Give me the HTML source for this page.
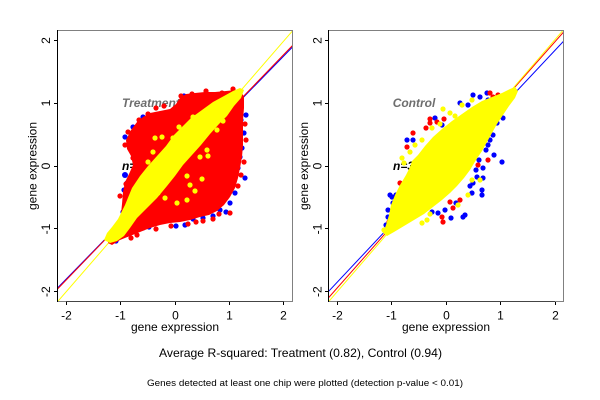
<!DOCTYPE html>
<html><head><meta charset="utf-8"><style>
html,body{margin:0;padding:0;background:#fff;}
svg{display:block;font-family:"Liberation Sans",Arial,sans-serif;}
</style></head><body>
<svg width="600" height="400" viewBox="0 0 600 400" xmlns="http://www.w3.org/2000/svg">
<defs>
<clipPath id="cl"><rect x="57.5" y="30.5" width="235" height="271"/></clipPath>
<clipPath id="cr"><rect x="328.5" y="30.5" width="235" height="271"/></clipPath>
</defs>
<rect width="600" height="400" fill="#fff"/>

<!-- ===== LEFT PANEL ===== -->
<text x="122" y="107" font-size="12" font-weight="bold" font-style="italic" fill="#6e6e6e">Treatment</text>
<text x="122" y="170" font-size="12" font-weight="bold" font-style="italic" fill="#000">n=3</text>
<g clip-path="url(#cl)">
<line x1="57" y1="288.5" x2="293" y2="46.5" stroke="#0000ff" stroke-width="1"/>
<line x1="57" y1="289.5" x2="293" y2="45" stroke="#ff0000" stroke-width="1"/>
<line x1="57.3" y1="302" x2="293.3" y2="30" stroke="#ffff00" stroke-width="1"/>
<g fill="#0000ff">
<circle cx="125" cy="137" r="2.6"/><circle cx="133" cy="127" r="2.6"/><circle cx="143" cy="117" r="2.6"/>
<circle cx="125" cy="175" r="3"/><circle cx="127" cy="183" r="2.6"/><circle cx="128" cy="203" r="2.6"/>
<circle cx="123" cy="212" r="2.6"/><circle cx="116" cy="241" r="2.6"/><circle cx="119" cy="228" r="2.6"/>
<circle cx="143" cy="228" r="2.6"/><circle cx="162" cy="220" r="2.6"/><circle cx="166" cy="218" r="2.6"/>
<circle cx="185" cy="225" r="2.6"/><circle cx="193" cy="219" r="2.6"/><circle cx="203" cy="218" r="2.6"/>
<circle cx="213" cy="216" r="2.6"/><circle cx="220" cy="210" r="2.6"/><circle cx="230" cy="203" r="2.6"/>
<circle cx="235" cy="193" r="2.6"/><circle cx="238" cy="168" r="2.6"/><circle cx="240" cy="157" r="2.6"/>
<circle cx="242" cy="148" r="2.6"/><circle cx="244" cy="133" r="2.6"/><circle cx="241" cy="120" r="2.6"/>
<circle cx="226" cy="212" r="2.6"/><circle cx="245" cy="178" r="2.6"/><circle cx="246" cy="115" r="2.6"/>
<circle cx="176" cy="226" r="2.6"/><circle cx="121" cy="220" r="2.6"/><circle cx="149" cy="227" r="2.6"/>
<circle cx="184" cy="96" r="2.6"/><circle cx="124" cy="190" r="2.6"/>
</g>
<path fill="#ff0000" d="M108,243 L113,232 L118,224 L121,214 L122,204 L123,192 L125,182 L129,174 L133,165 L131,156 L127,149 L126,140 L131,130 L137,122 L143,117 L150,113 L160,111 L170,109 L176,104 L180,98 L186,94 L195,93 L205,92 L215,92 L226,91 L236,90 L241,91 L244,97 L244,108 L243,120 L243,132 L243,145 L242,157 L240,168 L238,178 L235,188 L230,197 L224,205 L217,211 L209,215 L200,217 L190,220 L180,222 L170,223 L160,225 L150,228 L140,232 L130,236 L120,240 L112,245 Z"/>
<g fill="#ff0000">
<circle cx="125" cy="145" r="2.6"/><circle cx="230" cy="213" r="2.6"/><circle cx="203" cy="221" r="2.6"/>
<circle cx="188" cy="224" r="2.6"/><circle cx="120" cy="196" r="2.6"/><circle cx="156" cy="108" r="2.6"/>
<circle cx="164" cy="106" r="2.6"/><circle cx="181" cy="96" r="2.6"/><circle cx="245" cy="124" r="2.6"/>
<circle cx="241" cy="175" r="2.6"/><circle cx="137" cy="235" r="2.6"/><circle cx="213" cy="219" r="2.6"/>
<circle cx="124" cy="230" r="2.6"/><circle cx="133" cy="158" r="2.6"/><circle cx="222" cy="93" r="2.6"/>
<circle cx="128" cy="132" r="2.6"/><circle cx="139" cy="120" r="2.6"/><circle cx="148" cy="114" r="2.6"/>
<circle cx="192" cy="94" r="2.6"/><circle cx="206" cy="91" r="2.6"/><circle cx="233" cy="89" r="2.6"/>
<circle cx="246" cy="140" r="2.6"/><circle cx="244" cy="162" r="2.6"/><circle cx="238" cy="186" r="2.6"/>
<circle cx="219" cy="214" r="2.6"/><circle cx="196" cy="222" r="2.6"/><circle cx="171" cy="226" r="2.6"/>
<circle cx="156" cy="229" r="2.6"/><circle cx="131" cy="238" r="2.6"/><circle cx="123" cy="222" r="2.6"/>
<circle cx="125" cy="200" r="2.6"/><circle cx="126" cy="184" r="2.6"/>
</g>
<path fill="#ffff00" d="M104,240 L107,233 L112,227 L118,219 L125,205 L132,188 L140,176 L148,166 L157,156 L166,146 L174,135 L183,126 L191,118 L202,110 L213,102 L224,96 L233,91 L240,88 L244,90 L241,98 L234,106 L227,116 L219,124 L210,134 L201,145 L192,155 L183,165 L175,176 L167,186 L157,198 L147,208 L137,218 L130,228 L124,236 L117,241 L110,243 Z"/>
<g fill="#ffff00">
<circle cx="179" cy="127" r="2.6"/><circle cx="162" cy="137" r="2.6"/><circle cx="197" cy="117" r="2.6"/>
<circle cx="208" cy="125" r="2.6"/><circle cx="223" cy="121" r="2.6"/><circle cx="207" cy="150" r="2.6"/>
<circle cx="208" cy="156" r="2.6"/><circle cx="200" cy="157" r="2.6"/><circle cx="187" cy="176" r="2.6"/>
<circle cx="190" cy="185" r="2.6"/><circle cx="195" cy="191" r="2.6"/><circle cx="177" cy="203" r="2.6"/>
<circle cx="165" cy="198" r="2.6"/><circle cx="138" cy="185" r="2.6"/><circle cx="148" cy="162" r="2.6"/>
<circle cx="153" cy="152" r="2.6"/><circle cx="155" cy="138" r="2.6"/><circle cx="200" cy="133" r="2.6"/>
<circle cx="217" cy="110" r="2.6"/><circle cx="202" cy="179" r="2.6"/><circle cx="187" cy="200" r="2.6"/>
<circle cx="217" cy="130" r="2.6"/><circle cx="158" cy="193" r="2.6"/><circle cx="173" cy="138" r="2.6"/>
<circle cx="193" cy="117" r="2.6"/><circle cx="110" cy="236" r="3"/><circle cx="114" cy="238" r="3"/>
</g>
</g>
<rect x="57.5" y="30.5" width="235" height="271" fill="none" stroke="#808080" stroke-width="1"/>
<line x1="57.5" y1="30" x2="57.5" y2="302" stroke="#000"/>
<line x1="66" y1="301.5" x2="284" y2="301.5" stroke="#444"/>
<g stroke="#000" stroke-width="1">
<line x1="54" y1="40.5" x2="57" y2="40.5"/><line x1="54" y1="103.5" x2="57" y2="103.5"/>
<line x1="54" y1="166.5" x2="57" y2="166.5"/><line x1="54" y1="228.5" x2="57" y2="228.5"/>
<line x1="54" y1="291.5" x2="57" y2="291.5"/>
<line x1="66.5" y1="302" x2="66.5" y2="305"/><line x1="120.5" y1="302" x2="120.5" y2="305"/>
<line x1="175.5" y1="302" x2="175.5" y2="305"/><line x1="229.5" y1="302" x2="229.5" y2="305"/>
<line x1="283.5" y1="302" x2="283.5" y2="305"/>
</g>
<g font-size="12" fill="#000" text-anchor="middle">
<text x="66.5" y="319.5">-2</text><text x="120.5" y="319.5">-1</text><text x="175.5" y="319.5">0</text>
<text x="229.5" y="319.5">1</text><text x="283.5" y="319.5">2</text>
<text transform="translate(50,40.5) rotate(-90)">2</text>
<text transform="translate(50,103) rotate(-90)">1</text>
<text transform="translate(50,166) rotate(-90)">0</text>
<text transform="translate(50,229) rotate(-90)">-1</text>
<text transform="translate(50,291.7) rotate(-90)">-2</text>
<text x="175" y="331">gene expression</text>
<text transform="translate(36.5,166) rotate(-90)">gene expression</text>
</g>

<!-- ===== RIGHT PANEL ===== -->
<text x="392.7" y="107" font-size="12" font-weight="bold" font-style="italic" fill="#6e6e6e">Control</text>
<text x="393" y="170" font-size="12" font-weight="bold" font-style="italic" fill="#000">n=3</text>
<g clip-path="url(#cr)">
<line x1="328.3" y1="291.7" x2="563.3" y2="41.5" stroke="#0000ff" stroke-width="1"/>
<line x1="328.3" y1="298" x2="563.3" y2="32.3" stroke="#ff0000" stroke-width="1"/>
<line x1="328.3" y1="302" x2="563.3" y2="30" stroke="#ffff00" stroke-width="1"/>
<g fill="#0000ff">
<circle cx="473" cy="95" r="2.6"/><circle cx="487" cy="93" r="2.6"/><circle cx="488" cy="100" r="2.6"/>
<circle cx="480" cy="97" r="2.6"/><circle cx="407" cy="140" r="2.6"/><circle cx="413" cy="140" r="2.6"/>
<circle cx="442" cy="125" r="2.6"/><circle cx="435" cy="118" r="2.6"/><circle cx="460" cy="103" r="2.6"/>
<circle cx="468" cy="105" r="2.6"/><circle cx="502" cy="162" r="2.6"/><circle cx="483" cy="168" r="2.6"/>
<circle cx="483" cy="178" r="2.6"/><circle cx="477" cy="177" r="2.6"/><circle cx="473" cy="183" r="2.6"/>
<circle cx="482" cy="190" r="2.6"/><circle cx="482" cy="195" r="2.6"/><circle cx="472" cy="193" r="2.6"/>
<circle cx="465" cy="215" r="2.6"/><circle cx="445" cy="210" r="2.6"/><circle cx="438" cy="213" r="2.6"/>
<circle cx="463" cy="217" r="2.6"/><circle cx="392" cy="197" r="2.6"/><circle cx="393" cy="203" r="2.6"/>
<circle cx="403" cy="187" r="2.6"/><circle cx="405" cy="190" r="2.6"/><circle cx="388" cy="210" r="2.6"/>
<circle cx="388" cy="217" r="2.6"/><circle cx="390" cy="195" r="2.6"/><circle cx="490" cy="140" r="2.6"/>
<circle cx="493" cy="135" r="2.6"/><circle cx="488" cy="145" r="2.6"/><circle cx="497" cy="123" r="2.6"/>
<circle cx="503" cy="118" r="2.6"/><circle cx="486" cy="150" r="2.6"/><circle cx="470" cy="186" r="2.6"/>
<circle cx="476" cy="170" r="2.6"/><circle cx="456" cy="203" r="2.6"/><circle cx="432" cy="212" r="2.6"/>
<circle cx="494" cy="155" r="2.6"/><circle cx="479" cy="160" r="2.6"/><circle cx="396" cy="195" r="2.6"/>
<circle cx="386" cy="225" r="2.6"/><circle cx="451" cy="218" r="2.6"/>
</g>
<g fill="#ff0000">
<circle cx="413" cy="133" r="2.6"/><circle cx="430" cy="123" r="2.6"/><circle cx="437" cy="122" r="2.6"/>
<circle cx="444" cy="119" r="2.6"/><circle cx="407" cy="147" r="2.6"/><circle cx="430" cy="119" r="2.6"/>
<circle cx="488" cy="160" r="2.6"/><circle cx="450" cy="202" r="2.6"/><circle cx="442" cy="217" r="2.6"/>
<circle cx="443" cy="222" r="2.6"/><circle cx="400" cy="183" r="2.6"/><circle cx="490" cy="93" r="2.6"/>
<circle cx="498" cy="95" r="2.6"/><circle cx="493" cy="97" r="2.6"/><circle cx="478" cy="165" r="2.6"/>
<circle cx="460" cy="200" r="2.6"/><circle cx="395" cy="205" r="2.6"/><circle cx="389" cy="222" r="2.6"/>
<circle cx="453" cy="208" r="2.6"/><circle cx="426" cy="128" r="2.6"/>
</g>
<path fill="#ffff00" d="M383,233 L386,225 L389,215 L391,205 L395,195 L400,185 L406,175 L410,167 L412,161 L418,155 L425,146 L433,137 L442,129 L452,121 L462,114 L472,107 L482,101 L492,97 L502,93 L510,89 L515,87 L518,91 L515,98 L509,106 L503,115 L497,124 L492,133 L487,142 L482,151 L476,160 L470,170 L464,178 L457,186 L450,193 L442,200 L433,207 L424,214 L414,220 L404,226 L394,232 L387,236 Z"/>
<g fill="#ffff00">
<circle cx="402" cy="158" r="2.6"/><circle cx="404" cy="163" r="2.6"/><circle cx="410" cy="152" r="2.6"/>
<circle cx="422" cy="140" r="2.6"/><circle cx="432" cy="128" r="2.6"/><circle cx="443" cy="109" r="2.6"/>
<circle cx="450" cy="113" r="2.6"/><circle cx="462" cy="105" r="2.6"/><circle cx="472" cy="100" r="2.6"/>
<circle cx="458" cy="205" r="2.6"/><circle cx="468" cy="195" r="2.6"/><circle cx="427" cy="220" r="2.6"/>
<circle cx="422" cy="223" r="2.6"/><circle cx="384" cy="230" r="2.6"/><circle cx="415" cy="145" r="2.6"/>
<circle cx="440" cy="124" r="2.6"/><circle cx="455" cy="116" r="2.6"/><circle cx="480" cy="180" r="2.6"/>
<circle cx="430" cy="214" r="2.6"/><circle cx="472" cy="180" r="2.6"/>
</g>
</g>
<rect x="328.5" y="30.5" width="235" height="271" fill="none" stroke="#808080" stroke-width="1"/>
<line x1="328.5" y1="30" x2="328.5" y2="302" stroke="#000"/>
<line x1="337" y1="301.5" x2="555" y2="301.5" stroke="#444"/>
<g stroke="#000" stroke-width="1">
<line x1="325" y1="40.5" x2="328" y2="40.5"/><line x1="325" y1="103.5" x2="328" y2="103.5"/>
<line x1="325" y1="166.5" x2="328" y2="166.5"/><line x1="325" y1="228.5" x2="328" y2="228.5"/>
<line x1="325" y1="291.5" x2="328" y2="291.5"/>
<line x1="337.5" y1="302" x2="337.5" y2="305"/><line x1="391.5" y1="302" x2="391.5" y2="305"/>
<line x1="446.5" y1="302" x2="446.5" y2="305"/><line x1="500.5" y1="302" x2="500.5" y2="305"/>
<line x1="555.5" y1="302" x2="555.5" y2="305"/>
</g>
<g font-size="12" fill="#000" text-anchor="middle">
<text x="337.5" y="319.5">-2</text><text x="391.5" y="319.5">-1</text><text x="446.5" y="319.5">0</text>
<text x="500.5" y="319.5">1</text><text x="555.5" y="319.5">2</text>
<text transform="translate(321.3,40.5) rotate(-90)">2</text>
<text transform="translate(321.3,103) rotate(-90)">1</text>
<text transform="translate(321.3,166) rotate(-90)">0</text>
<text transform="translate(321.3,229) rotate(-90)">-1</text>
<text transform="translate(321.3,291.7) rotate(-90)">-2</text>
<text x="446" y="331">gene expression</text>
<text transform="translate(308,166) rotate(-90)">gene expression</text>
</g>

<!-- ===== FOOTER ===== -->
<text x="300.5" y="357" font-size="12" text-anchor="middle" fill="#000" textLength="283" lengthAdjust="spacingAndGlyphs">Average R-squared: Treatment (0.82), Control (0.94)</text>
<text x="305" y="386" font-size="9.5" text-anchor="middle" fill="#000" textLength="316" lengthAdjust="spacingAndGlyphs">Genes detected at least one chip were plotted (detection p-value &lt; 0.01)</text>
</svg>
</body></html>
